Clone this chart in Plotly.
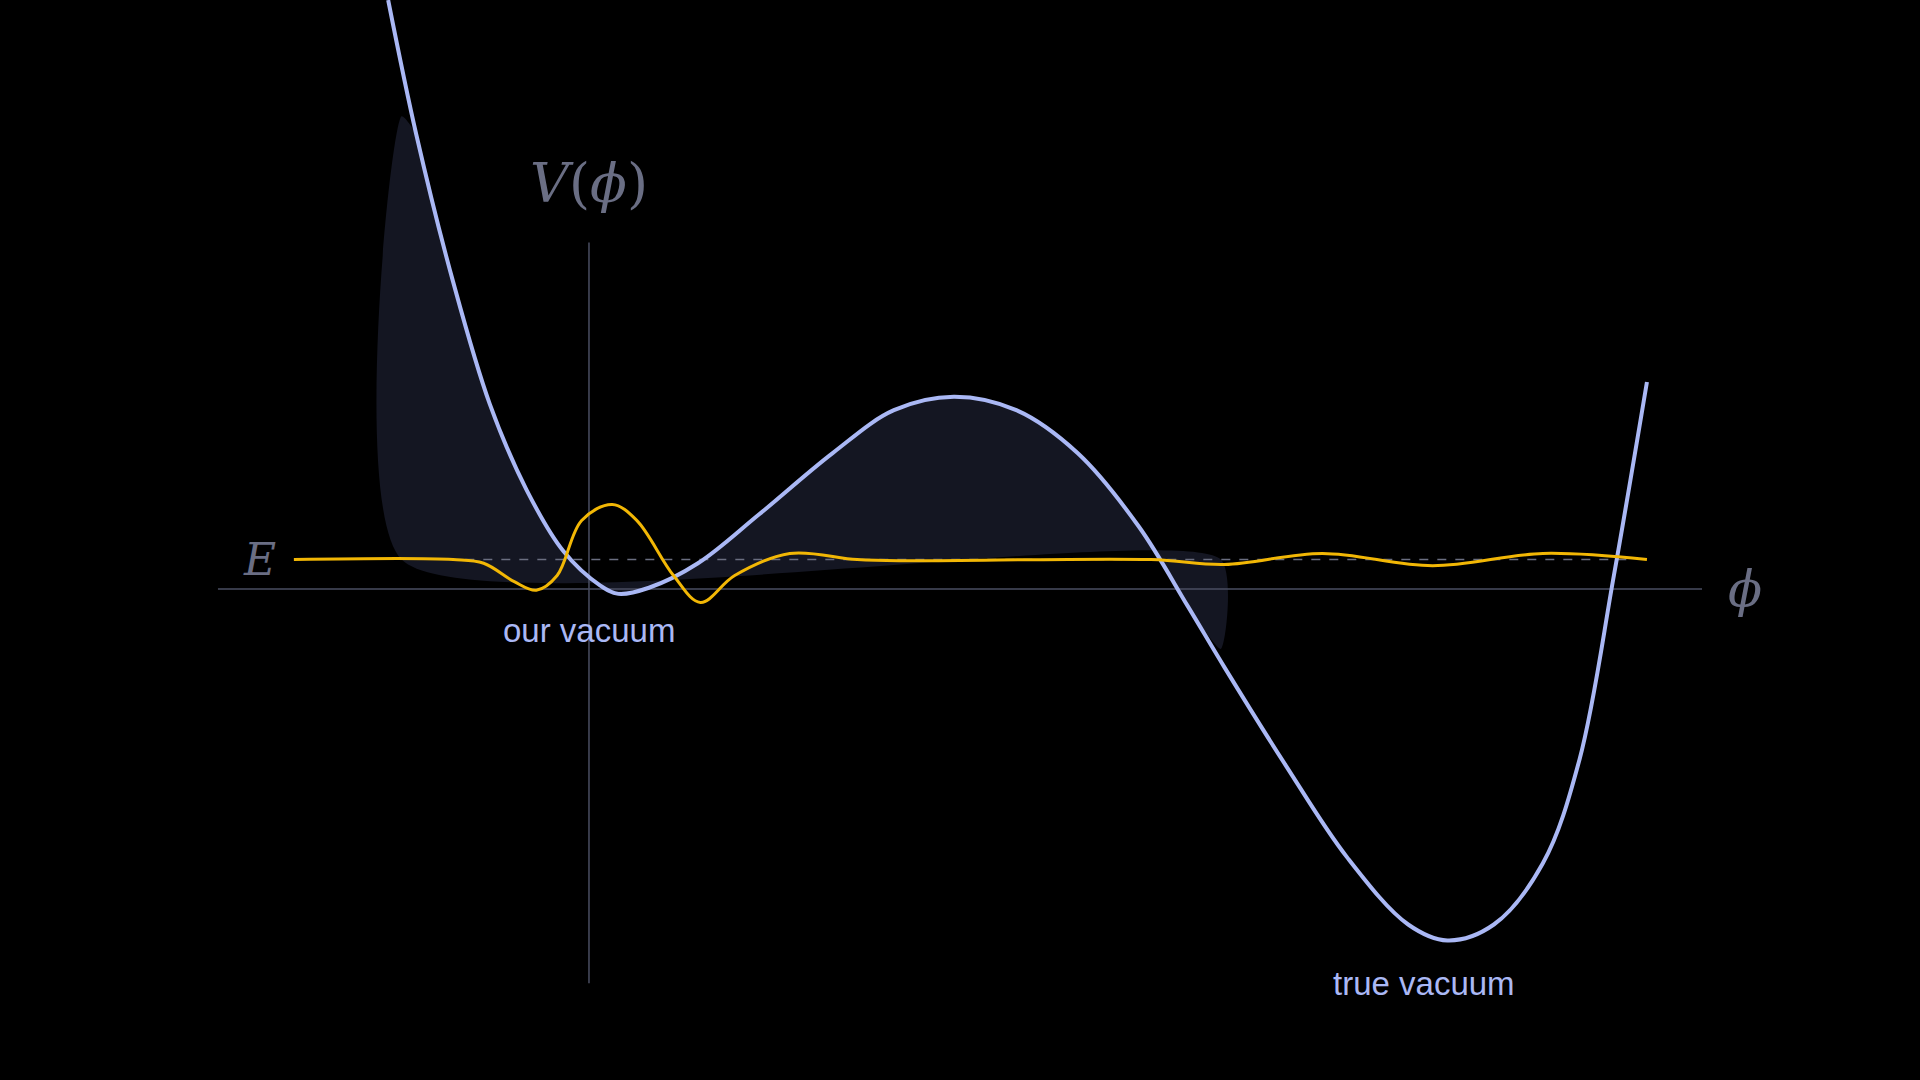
import plotly.graph_objects as go

# potential V(phi)
phi_v = [-1.64,-1.41,-1.11,-0.81,-0.51,-0.21,0.09,0.24,0.49,0.89,1.39,1.99,2.49,2.98,3.49,3.99,4.49,4.89,5.19,5.69,6.19,6.69,7.01,7.39,7.79,8.09,8.37,8.64]
V = [4.81,3.71,2.51,1.51,0.81,0.31,0.03,-0.04,0.01,0.21,0.61,1.11,1.46,1.57,1.46,1.11,0.51,-0.14,-0.64,-1.44,-2.19,-2.74,-2.87,-2.74,-2.24,-1.39,0.11,1.69]
# wave function
phi_w = [-2.41,-1.11,-0.86,-0.61,-0.43,-0.26,-0.06,0.19,0.39,0.69,0.91,1.19,1.64,2.19,2.59,4.59,5.19,5.99,6.89,7.79,8.64]
W = [0.24,0.24,0.21,0.06,-0.01,0.11,0.56,0.69,0.56,0.11,-0.11,0.11,0.29,0.24,0.23,0.24,0.20,0.29,0.19,0.29,0.24]
E = 0.24
fill_left, fill_right, fill_top, fill_bottom = -1.53, 5.16, 3.86, -0.49

fig = go.Figure()
fx = [fill_left, fill_left] + [p for p in phi_v if fill_left < p < fill_right] + [fill_right, fill_right, fill_left]
fy = [E, fill_top] + [v for p, v in zip(phi_v, V) if fill_left < p < fill_right] + [fill_bottom, E, E]
fig.add_trace(go.Scatter(x=fx, y=fy, fill='toself', fillcolor='#141622', line=dict(width=0, shape='spline', smoothing=0.6), mode='lines', hoverinfo='skip'))
fig.add_trace(go.Scatter(x=[-3.03, 9.09], y=[0, 0], mode='lines', line=dict(color='#4a4e62', width=1.5)))
fig.add_trace(go.Scatter(x=[0, 0], y=[2.83, -3.22], mode='lines', line=dict(color='#4a4e62', width=1.5)))
fig.add_trace(go.Scatter(x=[-1.01, 8.49], y=[E, E], mode='lines', line=dict(color='#6a6e80', width=1.5, dash='dash')))
fig.add_trace(go.Scatter(x=phi_v, y=V, mode='lines', line=dict(color='#aab8f5', width=4, shape='spline', smoothing=1.0)))
fig.add_trace(go.Scatter(x=phi_w, y=W, mode='lines', line=dict(color='#f2b705', width=3, shape='spline', smoothing=1.0)))

ann = [
    dict(x=0, y=3.31, text='<i>V</i>(<i>ϕ</i>)', font=dict(family='DejaVu Serif', size=54, color='#6a6e84')),
    dict(x=-2.69, y=0.24, text='<i>E</i>', font=dict(family='DejaVu Serif', size=44, color='#6a6e84')),
    dict(x=9.44, y=0, text='<i>ϕ</i>', font=dict(family='DejaVu Serif', size=50, color='#6a6e84')),
    dict(x=0, y=-0.34, text='our vacuum', font=dict(family='Liberation Sans', size=33, color='#aab8f5')),
    dict(x=6.82, y=-3.22, text='true vacuum', font=dict(family='Liberation Sans', size=33, color='#aab8f5')),
]
for a in ann:
    fig.add_annotation(showarrow=False, xanchor='center', yanchor='middle', **a)

fig.update_layout(width=1920, height=1080, margin=dict(l=0, r=0, t=0, b=0),
                  paper_bgcolor='black', plot_bgcolor='black', showlegend=False,
                  xaxis=dict(range=[-4.81, 10.87], visible=False, fixedrange=True),
                  yaxis=dict(range=[-4.01, 4.81], visible=False, fixedrange=True))
fig.write_html('out.html', config={'displayModeBar': False},
               post_script="document.body.style.margin='0';document.body.style.background='black';")
